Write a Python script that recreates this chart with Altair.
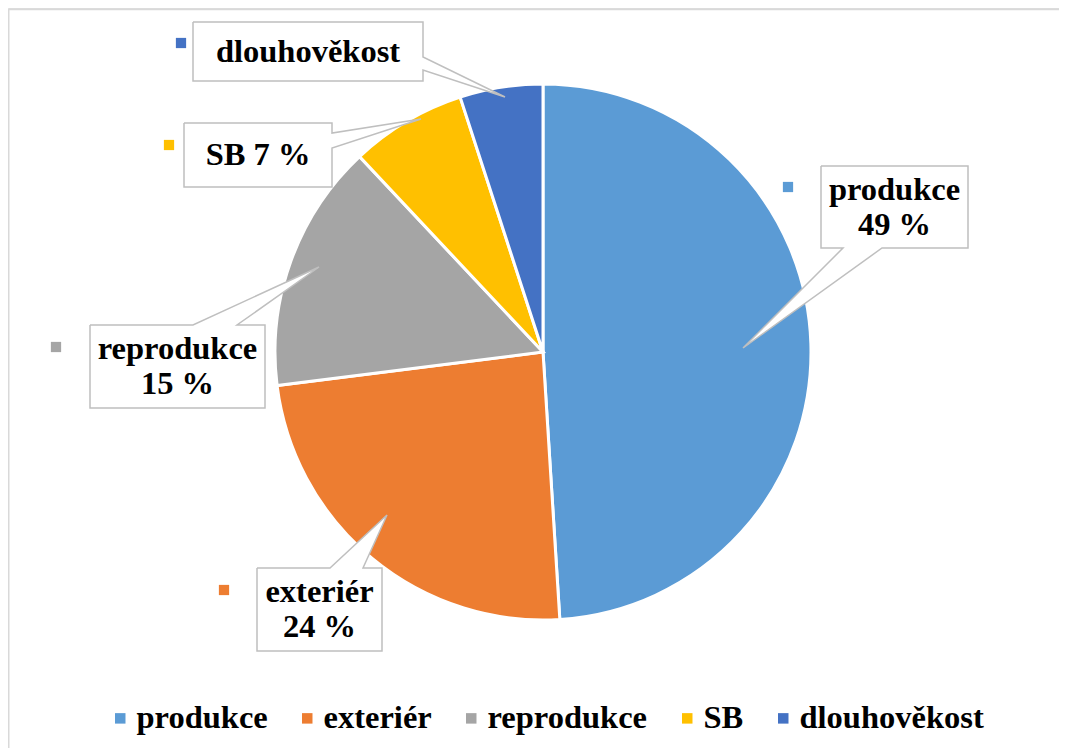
import altair as alt
import pandas as pd

# ---- data ----
categories = ["produkce", "exteriér", "reprodukce", "SB", "dlouhověkost"]
shares = [49, 24, 15, 7, 5]
colors = ["#5B9BD5", "#ED7D31", "#A5A5A5", "#FFC000", "#4472C4"]
label_style = ["two", "two", "two", "one", "name"]  # how each data label is shown

# ---- layout of callouts (page pixel coordinates) ----
FONT = "Liberation Serif"
FS = 32.5
# box (x0, y0, x1, y1), wedge side, wedge base (a, b), tip (x, y), key square (x, y)
callouts = {
    "produkce":     dict(box=(821, 166, 968, 248), side="bottom", base=(843, 882), tip=(743, 348), key=(788, 187)),
    "exteriér":     dict(box=(257, 568, 382, 651), side="top",    base=(330, 363), tip=(387, 515), key=(224, 590)),
    "reprodukce":   dict(box=(90, 325, 265, 408),  side="top",    base=(193, 237), tip=(319, 267), key=(56, 347)),
    "SB":           dict(box=(184, 123, 332, 187), side="right",  base=(133, 148), tip=(421, 119), key=(169, 145)),
    "dlouhověkost": dict(box=(193, 22, 423, 81),   side="right",  base=(57, 70),   tip=(505, 97),  key=(181, 43)),
}

W, H = 1051, 740
xs = alt.Scale(domain=[8, 8 + W], range=[0, W])
ys = alt.Scale(domain=[8, 8 + H], range=[0, H])

# ---- pie ----
pie_df = pd.DataFrame({"cat": categories, "value": shares, "idx": list(range(len(categories)))})
pie = alt.Chart(pie_df).mark_arc(outerRadius=268, stroke="white", strokeWidth=3).encode(
    theta=alt.Theta("value:Q", stack=True),
    color=alt.Color(
        "cat:N",
        scale=alt.Scale(domain=categories, range=colors),
        sort=categories,
        legend=alt.Legend(
            title=None, orient="none", legendX=96, legendY=694, direction="horizontal",
            symbolType="square", symbolSize=110, symbolStrokeWidth=0,
            labelFont=FONT, labelFontSize=FS, labelFontWeight="bold", labelColor="black",
            columnPadding=23, labelOffset=0, padding=0, labelLimit=400,
        ),
    ),
    order=alt.Order("idx:Q"),
    x=alt.value(543 - 8),
    y=alt.value(352 - 8),
)

# ---- callout shapes ----
rows = []
for cat in categories:
    c = callouts[cat]
    x0, y0, x1, y1 = c["box"]
    a, b = c["base"]
    tx, ty = c["tip"]
    if c["side"] == "bottom":
        pts = [(x0, y0), (x1, y0), (x1, y1), (b, y1), (tx, ty), (a, y1), (x0, y1), (x0, y0)]
    elif c["side"] == "top":
        pts = [(x0, y0), (a, y0), (tx, ty), (b, y0), (x1, y0), (x1, y1), (x0, y1), (x0, y0)]
    else:  # right
        pts = [(x0, y0), (x1, y0), (x1, a), (tx, ty), (x1, b), (x1, y1), (x0, y1), (x0, y0)]
    for i, (px, py) in enumerate(pts):
        rows.append({"cat": cat, "o": i, "px": px, "py": py})
shape_df = pd.DataFrame(rows)
shapes = alt.Chart(shape_df).mark_line(fill="white", stroke="#BFBFBF", strokeWidth=1.5, strokeJoin="miter").encode(
    x=alt.X("px:Q", scale=xs, axis=None),
    y=alt.Y("py:Q", scale=ys, axis=None),
    detail="cat:N",
    order="o:Q",
)

# ---- callout texts ----
trows = []
for cat, val, st in zip(categories, shares, label_style):
    x0, y0, x1, y1 = callouts[cat]["box"]
    cx = (x0 + x1) / 2
    cy = (y0 + y1) / 2
    if st == "two":
        trows.append({"t": cat, "tx": cx, "ty": cy - 17.5})
        trows.append({"t": f"{val} %", "tx": cx, "ty": cy + 17.5})
    elif st == "one":
        trows.append({"t": f"{cat} {val} %", "tx": cx, "ty": cy})
    else:
        trows.append({"t": cat, "tx": cx, "ty": cy})
text_df = pd.DataFrame(trows)
texts = alt.Chart(text_df).mark_text(
    font=FONT, fontSize=FS, fontWeight="bold", color="black", align="center", baseline="middle"
).encode(
    x=alt.X("tx:Q", scale=xs, axis=None),
    y=alt.Y("ty:Q", scale=ys, axis=None),
    text="t:N",
)

# ---- key squares next to callouts ----
key_df = pd.DataFrame({
    "cat": categories,
    "kx": [callouts[c]["key"][0] for c in categories],
    "ky": [callouts[c]["key"][1] for c in categories],
})
keys = alt.Chart(key_df).mark_point(shape="square", filled=True, size=105, opacity=1).encode(
    x=alt.X("kx:Q", scale=xs, axis=None),
    y=alt.Y("ky:Q", scale=ys, axis=None),
    color=alt.Color("cat:N", scale=alt.Scale(domain=categories, range=colors), legend=None),
)

# ---- chart border ----
border = alt.Chart(pd.DataFrame({"a": [0]})).mark_rect(fill=None, stroke="#D9D9D9", strokeWidth=1.5).encode(
    x=alt.value(0.75), x2=alt.value(W + 30), y=alt.value(1.5), y2=alt.value(H + 30)
)

chart = alt.layer(border, pie, shapes, texts, keys).properties(
    width=W, height=H, padding=0, autosize=alt.AutoSizeParams(type="none")
).configure_view(stroke=None).configure(background="white")

chart.save("out.html", embed_options={"renderer": "svg", "actions": False})
